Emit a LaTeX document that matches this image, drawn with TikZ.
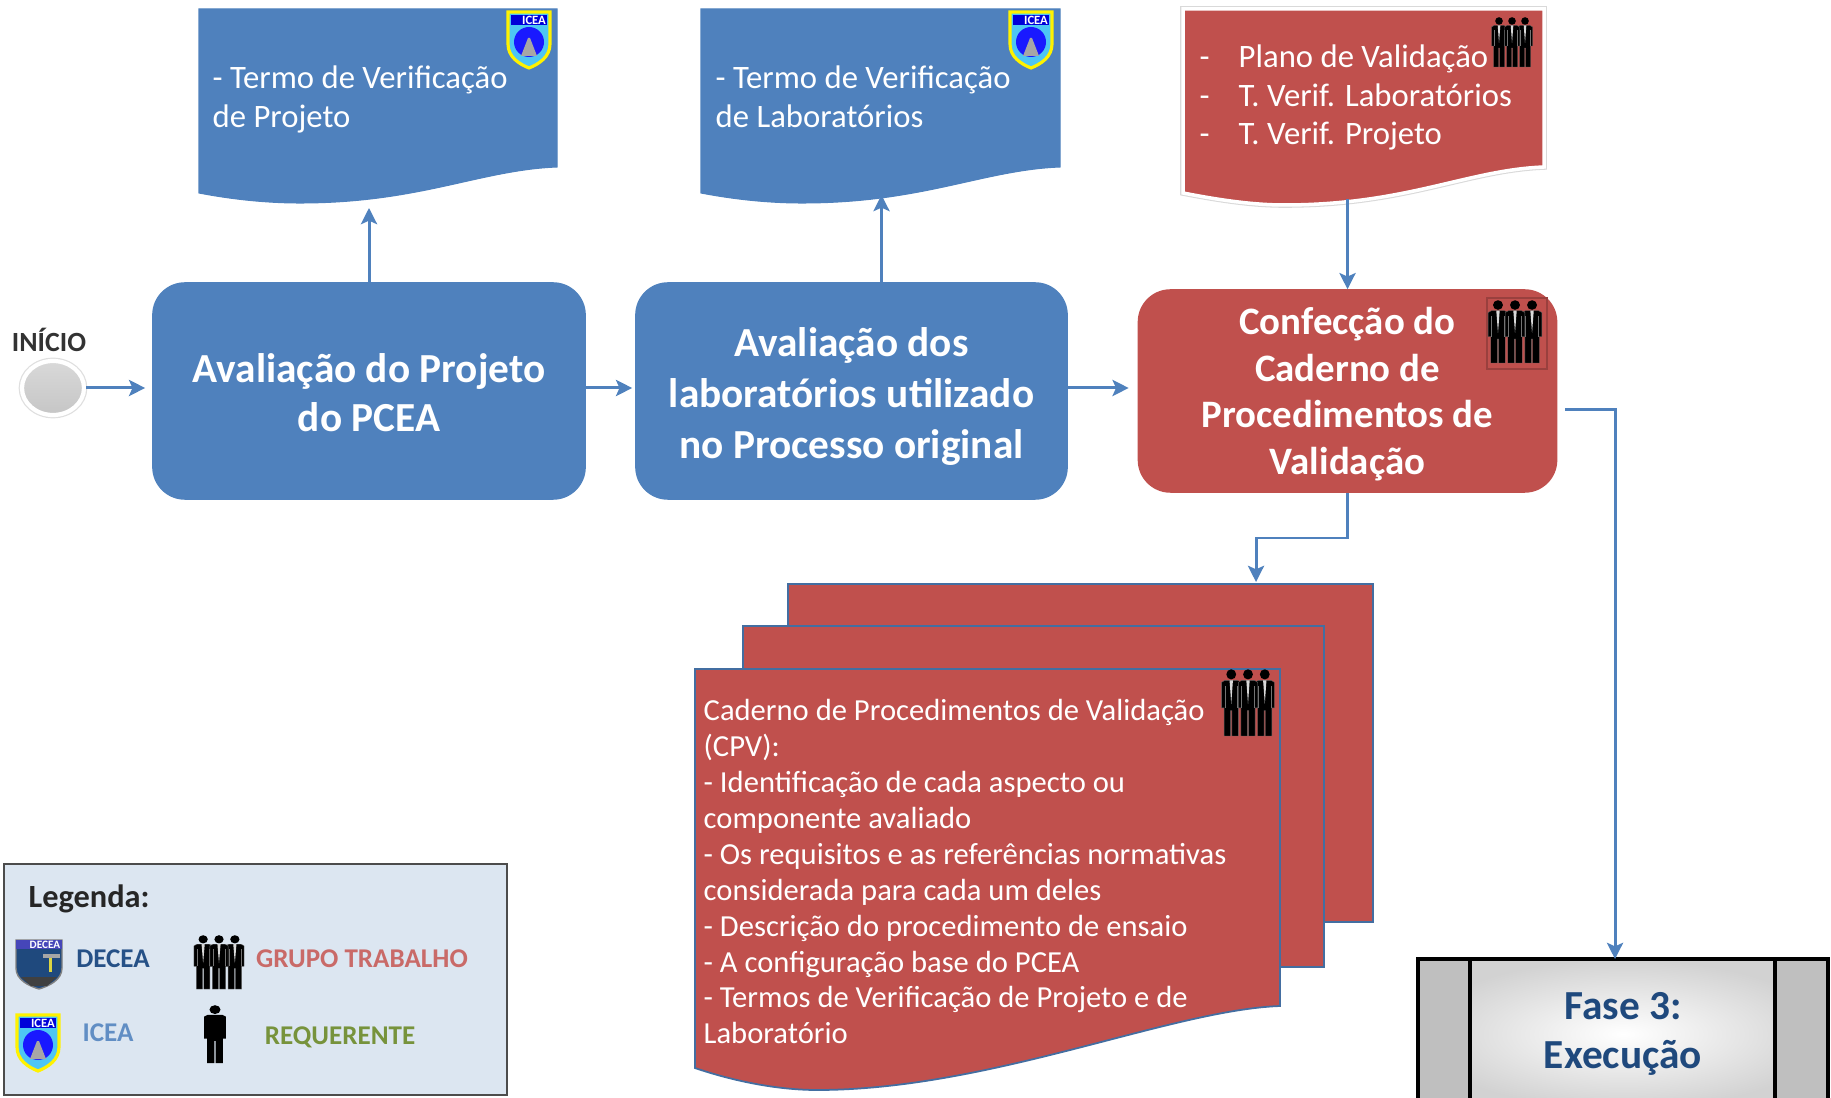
\documentclass[tikz,border=0pt]{standalone}
\usepackage{fontspec}
\usepackage{xcolor}
\setmainfont{Carlito}
\usetikzlibrary{shapes.geometric,arrows.meta,positioning,calc}

\definecolor{azul}{HTML}{4F81BD}
\definecolor{vermelho}{HTML}{C0504D}
\definecolor{azulescuro}{HTML}{1F497D}
\definecolor{fundolegenda}{HTML}{DCE6F1}
\definecolor{verde}{HTML}{77933C}

\newcommand{\topo}[1]{\rule{0pt}{#1pt}}

\tikzset{
    seta/.style={azul, line width=0.85pt, -{Stealth[length=4.6pt,width=4.6pt,inset=1pt]}},
    blocoazul/.style={rectangle, rounded corners=0.32cm, inner ysep=0pt, fill=azul, draw=azul, text=white, align=center, font=\fontsize{11.75}{14}\selectfont\bfseries},
    blocovermelho/.style={rectangle, rounded corners=0.32cm, inner ysep=0pt, fill=vermelho, draw=vermelho, text=white, align=center, font=\fontsize{11.05}{13.3}\selectfont\bfseries},
    docazul/.style={fill=azul, draw=azul, line width=0.3pt},
    docvermelho/.style={fill=vermelho, draw=white, line width=1pt, preaction={draw=gray!30, line width=1.6pt}},
    folha/.style={fill=vermelho, draw=azul!85!black, line width=0.5pt},
    textodoc/.style={text=white, align=left, anchor=north west, inner sep=0pt, font=\fontsize{9.3}{11}\selectfont},
    textofolha/.style={text=white, align=left, anchor=north west, inner sep=0pt, font=\fontsize{8.7}{10.2}\selectfont},
    rotulo/.style={font=\fontsize{7.7}{9}\selectfont\bfseries},
    pessoa/.pic={
        \fill[black] (0,4) circle (3.8);
        \fill[black] (-7.5,10) -- (-5,8.5) -- (5,8.5) -- (7.5,10) -- (7.5,29) -- (5.5,29) -- (5.5,50) -- (0.5,50) -- (0.5,31) -- (-0.5,31) -- (-0.5,50) -- (-5.5,50) -- (-5.5,29) -- (-7.5,29) -- cycle;
    },
    grupotrab/.pic={
        \foreach \px in {-13,13,0} {
            \begin{scope}[shift={(\px,0)}]
                \fill[black] (0,4) circle (3.8);
                \filldraw[fill=black, draw=black!60!white, line width=0.1pt] (-7.5,10) -- (-5,8.5) -- (5,8.5) -- (7.5,10) -- (7.5,29) -- (5.5,29) -- (5.5,50) -- (0.5,50) -- (0.5,31) -- (-0.5,31) -- (-0.5,50) -- (-5.5,50) -- (-5.5,29) -- (-7.5,29) -- cycle;
                \fill[white!85!black] (-1.3,8.5) -- (1.3,8.5) -- (0,26) -- cycle;
                \draw[white!45!black, line width=0.15pt] (-5,13) -- (-5,29) (5,13) -- (5,29);
            \end{scope}
        }
    },
    brasaoicea/.pic={
        \filldraw[fill=cyan!70!white, draw=yellow, line width=0.9pt] (-21,0) -- (21,0) -- (21,32) .. controls (21,45) and (10,52) .. (0,56) .. controls (-10,52) and (-21,45) .. (-21,32) -- cycle;
        \fill[blue!85!black] (-18,3) rectangle (18,13);
        \node[text=white, inner sep=0pt, font=\fontsize{3.6}{4}\selectfont\bfseries] (sigla) at (5,8) {ICEA};
        \fill[blue!90!white] (0,30) circle (15);
        \fill[gray!70] (-8,44) -- (8,44) -- (1,26) -- (-1,26) -- cycle;
    },
    brasaodecea/.pic={
        \filldraw[fill=azulescuro, draw=gray, line width=0.4pt] (-23,0) -- (23,0) -- (23,28) .. controls (23,40) and (10,46) .. (0,49) .. controls (-10,46) and (-23,40) .. (-23,28) -- cycle;
        \fill[blue!45!gray] (-23,0) rectangle (23,9);
        \node[text=white, inner sep=0pt, font=\fontsize{3.2}{4}\selectfont\bfseries] (sigla) at (6,5) {DECEA};
        \fill[yellow!70!gray] (10,16) rectangle (13,32);
        \fill[gray!70] (4,14) rectangle (21,18);
        \fill[gray!50!black] (-18,37) -- (18,37) -- (8,46) -- (-8,46) -- cycle;
    },
}

\begin{document}
\begin{tikzpicture}[x=0.01cm, y=-0.01cm]
    \useasboundingbox (0,0) rectangle (1831,1098);
    \clip (0,0) rectangle (1831,1098);

    % blocos do processo
    \node[blocoazul, minimum width=4.32cm, minimum height=2.16cm] (boxA) at (369,391) {\topo{9}Avaliação do Projeto\\do PCEA};
    \node[blocoazul, minimum width=4.31cm, minimum height=2.16cm, font=\fontsize{11.75}{14.5}\selectfont\bfseries] (boxB) at (851.5,391) {\topo{11.5}Avaliação dos\\laboratórios utilizado\\no Processo original};
    \node[blocovermelho, minimum width=4.18cm, minimum height=2.02cm] (boxC) at (1347.5,391) {\topo{9.5}Confecção do\\Caderno de\\Procedimentos de\\Validação};

    % inicio
    \node[ellipse, minimum width=0.62cm, minimum height=0.54cm, inner sep=0pt, top color=gray!30, bottom color=gray!45, draw=white, line width=1.2pt, preaction={draw=gray!25, line width=1.9pt}] (inicio) at (53,388) {};
    \node[font=\fontsize{7.9}{9}\selectfont\bfseries, text=black!80, inner sep=0pt] (inicioTxt) at (49,340) {INÍCIO};

    % documentos de cima
    \path[docazul] (199,9) -- (557,9) -- (557,167) .. controls (480,170) and (420,203) .. (300,203) .. controls (265,203) and (230,199) .. (199,193) -- cycle;
    \path[docazul] (701,9) -- (1060,9) -- (1060,167) .. controls (983,170) and (923,203) .. (802,203) .. controls (767,203) and (732,199) .. (701,193) -- cycle;
    \path[docvermelho] (1183,9) -- (1544,9) -- (1544,167) .. controls (1467,170) and (1407,205) .. (1284,205) .. controls (1250,205) and (1214,199) .. (1183,193) -- cycle;
    \node[textodoc] (docAtxt) at (212,65) {- Termo de Verificação\\de Projeto};
    \node[textodoc] (docBtxt) at (715,65) {- Termo de Verificação\\de Laboratórios};
    \node[textodoc] (docCtxt) at (1199,44) {\makebox[0.39cm][l]{-}Plano de Validação\\\makebox[0.39cm][l]{-}T. Verif. Laboratórios\\\makebox[0.39cm][l]{-}T. Verif. Projeto};
    \pic (escudoA) at (529,12) {brasaoicea};
    \pic (escudoB) at (1031,12) {brasaoicea};
    \pic (grupoDoc) at (1512,17) {grupotrab};

    % caderno de procedimentos
    \node[folha, rectangle, minimum width=5.85cm, minimum height=3.38cm] (folhaC) at (1080.5,753) {};
    \node[folha, rectangle, minimum width=5.81cm, minimum height=3.41cm] (folhaB) at (1033.5,796.5) {};
    \path[folha] (695,669) -- (1280,669) -- (1280,1006) .. controls (1170,1010) and (990,1090) .. (817,1090) .. controls (775,1090) and (730,1080) .. (695,1068) -- cycle;
    \node[textofolha] (cadernoTxt) at (703,699) {Caderno de Procedimentos de Validação\\(CPV):\\- Identificação de cada aspecto ou\\componente avaliado\\- Os requisitos e as referências normativas\\considerada para cada um deles\\- Descrição do procedimento de ensaio\\- A configuração base do PCEA\\- Termos de Verificação de Projeto e de\\Laboratório};
    \pic[xscale=1.29, yscale=1.34] (grupoCaderno) at (1248,669) {grupotrab};

    % icone do bloco vermelho
    \draw[vermelho!80!black, line width=0.4pt] (1487,298) rectangle (1547,369);
    \pic[xscale=1.31, yscale=1.26] (grupoBox) at (1515,300) {grupotrab};

    % fase 3
    \node[rectangle, minimum width=4.08cm, minimum height=1.48cm, inner color=white, outer color=gray!35, align=center, text=azulescuro, font=\fontsize{11.75}{14}\selectfont\bfseries] (fase) at (1623,1034) {Fase 3:\\Execução};
    \fill[gray!50] (fase.north west) rectangle (1470,1108);
    \fill[gray!50] (1775,960) rectangle (fase.south east);
    \draw[black, line width=1.1pt] (fase.north west) rectangle (fase.south east);
    \draw[black, line width=1.1pt] (1470,960) -- (1470,1108) (1775,960) -- (1775,1108);

    % conectores
    \coordinate (docAbase) at (369,208);
    \coordinate (docBbase) at (881.5,195);
    \coordinate (docCbase) at (1347.5,199);
    \coordinate (dobra) at (1256,538);
    \coordinate (entradaCaderno) at (1256,582);
    \coordinate (saidaC) at (1565,410);
    \coordinate (dobraFase) at (1615,410);
    \coordinate (entradaFase) at (1615,959);
    \draw[seta, shorten >=0.07cm] (inicio.east) -- (inicio.east -| boxA.west);
    \draw[seta, shorten >=0.03cm] (boxA.east |- inicio) -- (boxB.west |- inicio);
    \draw[seta, shorten >=0.09cm] (boxB.east |- inicio) -- (boxC.west |- inicio);
    \draw[seta] (boxA.north) -- (docAbase);
    \draw[seta] (boxB.north -| docBbase) -- (docBbase);
    \draw[seta] (docCbase) -- (boxC.north);
    \draw[seta] (boxC.south) |- (dobra) -- (entradaCaderno);
    \draw[seta] (saidaC) -- (dobraFase) -- (entradaFase);

    % legenda
    \node[rectangle, minimum width=5.03cm, minimum height=2.31cm, fill=fundolegenda, draw=black!70, line width=0.7pt] (legenda) at (255.5,979.5) {};
    \node[anchor=west, inner sep=0pt, font=\fontsize{9.2}{10}\selectfont\bfseries, text=black!85] (legendaTit) at (28,899) {Legenda:};
    \pic (escudoDecea) at (39,940) {brasaodecea};
    \node[rotulo, text=azulescuro!85!azul, inner sep=0pt] (legDecea) at (113,959) {DECEA};
    \pic[xscale=1.22, yscale=1.08] (legGrupo) at (219,935) {grupotrab};
    \node[rotulo, text=vermelho!85!white, inner sep=0pt] (legTrabalho) at (362,959) {GRUPO TRABALHO};
    \pic (escudoIcea) at (38,1015) {brasaoicea};
    \node[rotulo, text=azul!90!white, inner sep=0pt] (legIcea) at (108,1033) {ICEA};
    \pic[xscale=1.45, yscale=1.16] (legPessoa) at (215,1005) {pessoa};
    \node[rotulo, text=verde, inner sep=0pt] (legRequerente) at (340,1037) {REQUERENTE};
\end{tikzpicture}
\end{document}
